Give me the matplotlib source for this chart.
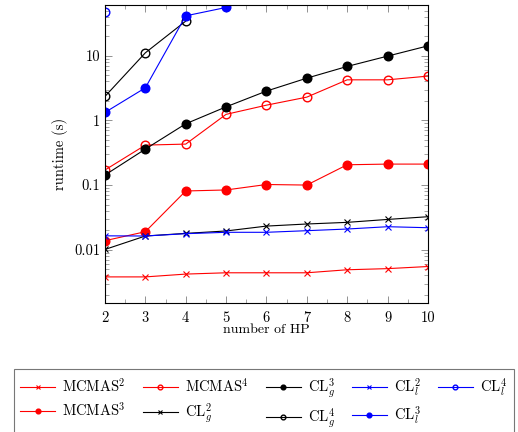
import matplotlib
matplotlib.use("Agg")
import matplotlib.pyplot as plt
from matplotlib.ticker import FixedLocator, FixedFormatter, LogLocator, NullFormatter

plt.rcParams['font.family'] = 'serif'
plt.rcParams['font.serif'] = ['cmr10', 'DejaVu Serif']
plt.rcParams['mathtext.fontset'] = 'cm'
plt.rcParams['axes.unicode_minus'] = False

hp = [2, 3, 4, 5, 6, 7, 8, 9, 10]

mcmas2 = [0.0038, 0.0038, 0.0042, 0.0044, 0.0044, 0.0044, 0.0049, 0.0051, 0.0055]
mcmas3 = [0.0138, 0.019, 0.081, 0.084, 0.102, 0.100, 0.206, 0.211, 0.211]
mcmas4 = [0.171, 0.415, 0.43, 1.24, 1.72, 2.29, 4.24, 4.24, 4.84]
clg2 = [0.0101, 0.0163, 0.0179, 0.0195, 0.0232, 0.025, 0.0265, 0.0294, 0.0324]
clg3 = [0.143, 0.36, 0.886, 1.62, 2.84, 4.5, 6.83, 9.86, 14.2]
clg4 = [2.35, 11.1, 34.3]
cll2 = [0.0164, 0.0163, 0.0177, 0.0186, 0.0186, 0.0197, 0.0209, 0.0227, 0.0219]
cll3 = [1.33, 3.19, 41.4, 55.8]
cll4 = [47.2]

labels = ['MCMAS$^2$', 'MCMAS$^3$', 'MCMAS$^4$',
          'CL$_g^2$', 'CL$_g^3$', 'CL$_g^4$',
          'CL$_l^2$', 'CL$_l^3$', 'CL$_l^4$']

fig = plt.figure(figsize=(5.18, 4.32), dpi=100)
ax = fig.add_axes([0.2027, 0.2986, 0.6233, 0.6894])

red = '#ff0000'
blue = '#0000ff'
lw = 0.8
ms_o = 6.2
ms_x = 5
mew_x = 0.8

ax.plot(hp, mcmas2, color=red, marker='x', ms=ms_x, mew=mew_x, lw=lw, label=labels[0])
ax.plot(hp, mcmas3, color=red, marker='o', ms=ms_o, lw=lw, label=labels[1])
ax.plot(hp, mcmas4, color=red, marker='o', ms=ms_o, mfc='none', lw=lw, label=labels[2])
ax.plot(hp, clg2, color='black', marker='x', ms=ms_x, mew=mew_x, lw=lw, label=labels[3])
ax.plot(hp, clg3, color='black', marker='o', ms=ms_o, lw=lw, label=labels[4])
ax.plot(hp[:len(clg4)], clg4, color='black', marker='o', ms=ms_o, mfc='none', lw=lw, label=labels[5])
ax.plot(hp, cll2, color=blue, marker='x', ms=ms_x, mew=mew_x, lw=lw, label=labels[6])
ax.plot(hp[:len(cll3)], cll3, color=blue, marker='o', ms=ms_o, lw=lw, label=labels[7])
ax.plot(hp[:len(cll4)], cll4, color=blue, marker='o', ms=ms_o, mfc='none', lw=lw, label=labels[8])

for sp in ax.spines.values():
    sp.set_linewidth(0.8)

ax.set_yscale('log')
ax.set_xlim(2, 10)
ax.set_ylim(0.0015, 60.5)
ax.set_xticks(hp)
ax.set_xticks([x + 0.5 for x in hp[:-1]], minor=True)
ax.yaxis.set_major_locator(FixedLocator([0.01, 0.1, 1, 10]))
ax.yaxis.set_major_formatter(FixedFormatter(['0.01', '0.1', '1', '10']))
ax.yaxis.set_minor_locator(LogLocator(base=10, subs=range(2, 10)))
ax.yaxis.set_minor_formatter(NullFormatter())
ax.tick_params(which='both', direction='in', top=True, right=True, color='#808080', labelsize=10.5)
ax.tick_params(which='major', length=5, width=0.6)
ax.tick_params(which='minor', length=3, width=0.5)
ax.tick_params(axis='x', pad=6)

ax.set_xlabel('number of HP', fontsize=10, labelpad=-1)
ax.set_ylabel('runtime (s)', fontsize=10.5, labelpad=4)

handles, _ = ax.get_legend_handles_labels()
leg = fig.legend(handles, labels, ncol=5, loc='upper left',
                 bbox_to_anchor=(0.012, 0.162), fontsize=10.5,
                 frameon=True, fancybox=False, edgecolor='#555555',
                 markerscale=0.55, handlelength=2.4, columnspacing=1.15,
                 handletextpad=0.5, borderpad=0.45, labelspacing=0.45)
leg.get_frame().set_linewidth(0.8)

fig.savefig('out.png', dpi=100)
